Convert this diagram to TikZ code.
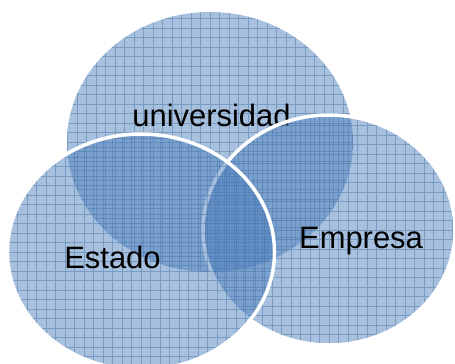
\documentclass[tikz,border=0pt]{standalone}
\usepackage{fontspec}
\setmainfont{Liberation Sans}
\usepackage{tikz}
\usetikzlibrary{shapes}
\definecolor{azul}{RGB}{79,129,189}
\tikzset{
    rejilla/.style = {draw=azul!85!black, line width=0.4pt, draw opacity=0.45, step=0.19},
    conjunto/.style = {ellipse, fill=azul, fill opacity=0.5, inner sep=0pt,
        path picture={\draw[rejilla] (path picture bounding box.south west) grid (path picture bounding box.north east);}},
    conjuntob/.style = {conjunto, draw=white, line width=2pt},
    etiqueta/.style = {anchor=base, text=black, font=\fontsize{17.6}{20}\selectfont}
}

\begin{document}
\begin{tikzpicture}
  \useasboundingbox (0,0) rectangle (9.1,7.26);
  \node[conjunto, minimum width=5.72cm, minimum height=5.2cm] (univ) at (4.2,4.42) {};
  \node[etiqueta] (tuniv) at (4.23,4.74) {universidad};
  \node[conjuntob, minimum width=5.04cm, minimum height=4.6cm] (emp) at (6.58,2.66) {};
  \node[etiqueta] (temp) at (7.22,2.3) {Empresa};
  \node[conjuntob, minimum width=5.34cm, minimum height=4.72cm] (est) at (2.82,2.22) {};
  \node[etiqueta] (test) at (2.25,1.9) {Estado};
\end{tikzpicture}
\end{document}
